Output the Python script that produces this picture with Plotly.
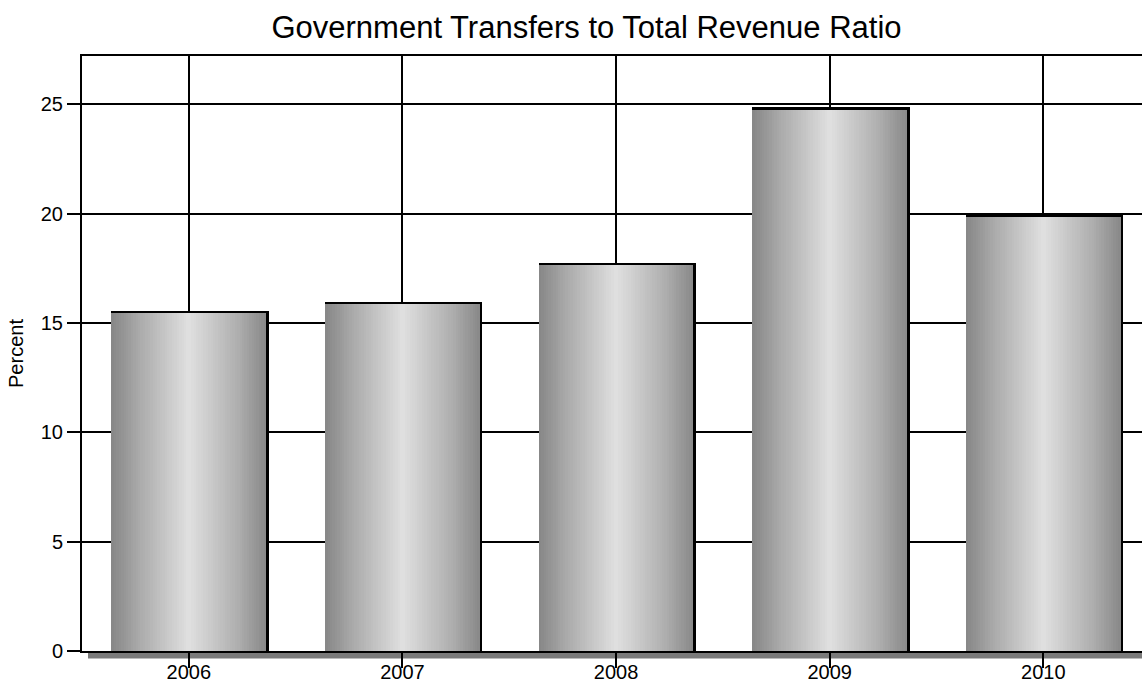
import plotly.graph_objects as go

# Government transfers as a share of total revenue, by fiscal year
years = ["2006", "2007", "2008", "2009", "2010"]
ratio_pct = [15.5, 15.9, 17.7, 24.8, 19.9]
y_ticks = [0, 5, 10, 15, 20, 25]

W, H = 1142, 684
M_L, M_R, M_T, M_B = 82, 0, 56, 33
FONT = "Liberation Sans, Arial, sans-serif"

# horizontal shading across each bar: dark edges, light centre (cylinder look)
SHADE_STOPS = [(0.0, 0x86), (0.18, 0xaa), (0.5, 0xe0), (0.82, 0xae), (1.0, 0x88)]


def shade(t):
    for (t0, g0), (t1, g1) in zip(SHADE_STOPS, SHADE_STOPS[1:]):
        if t <= t1:
            g = g0 + (g1 - g0) * (t - t0) / (t1 - t0)
            g = int(round(g))
            return f"rgb({g},{g},{g})"
    g = SHADE_STOPS[-1][1]
    return f"rgb({g},{g},{g})"


half = 0.362      # half width of the shaded body (category units)
rim = 0.012       # dark rim on the right-hand side
n_slices = 64
step = 2 * half / n_slices

fig = go.Figure()

# dark rim behind each bar: shows as a line along the top and right edge
fig.add_trace(go.Bar(
    x=years, y=[v + 0.06 for v in ratio_pct],
    width=2 * half + rim, offset=-half,
    marker=dict(color="black", line=dict(width=0)),
    hoverinfo="skip", showlegend=False,
))

# shaded body, built from thin vertical slices
body = [v - 0.05 for v in ratio_pct]
for k in range(n_slices):
    t = (k + 0.5) / n_slices
    w = step * 1.6 if k < n_slices - 1 else step
    fig.add_trace(go.Bar(
        x=years, y=body,
        width=w, offset=-half + k * step,
        marker=dict(color=shade(t), line=dict(width=0)),
        hoverinfo="skip", showlegend=False,
    ))

plot_h = H - M_T - M_B
plot_w = W - M_L - M_R

# drop shadow under the category axis
fig.add_shape(
    type="rect", xref="paper", yref="paper", layer="below",
    x0=6 / plot_w, x1=1.0, y0=-7.5 / plot_h, y1=-1 / plot_h,
    fillcolor="#7a7a7a", line=dict(width=0),
)

fig.update_layout(
    width=W, height=H,
    margin=dict(l=M_L, r=M_R, t=M_T, b=M_B, pad=0, autoexpand=False),
    paper_bgcolor="white", plot_bgcolor="white",
    barmode="overlay", bargap=0,
    showlegend=False,
    font=dict(family=FONT, color="black"),
    title=dict(
        text="Government Transfers to Total Revenue Ratio",
        font=dict(family=FONT, size=31, color="black"),
        xref="container", x=586.5 / W, xanchor="center",
        yref="container", y=1 - 27 / H, yanchor="middle",
    ),
    xaxis=dict(
        type="category", range=[-0.5, 4.462], automargin=False,
        showgrid=True, gridcolor="black", gridwidth=1.5,
        showline=True, linecolor="black", linewidth=2, mirror=True,
        ticks="outside", ticklen=15, tickwidth=1.5, tickcolor="black",
        ticklabelstandoff=-13,
        tickfont=dict(family=FONT, size=20, color="black"),
        fixedrange=True,
    ),
    yaxis=dict(
        range=[0, 27.2], tickvals=y_ticks, automargin=False,
        showgrid=True, gridcolor="black", gridwidth=2,
        zeroline=False,
        showline=True, linecolor="black", linewidth=2,
        ticks="outside", ticklen=13, tickwidth=1.5, tickcolor="black",
        tickfont=dict(family=FONT, size=20, color="black"),
        title=dict(text="Percent", font=dict(family=FONT, size=20, color="black"), standoff=12),
        fixedrange=True,
    ),
)

fig.write_html("out.html", config={"displayModeBar": False})
